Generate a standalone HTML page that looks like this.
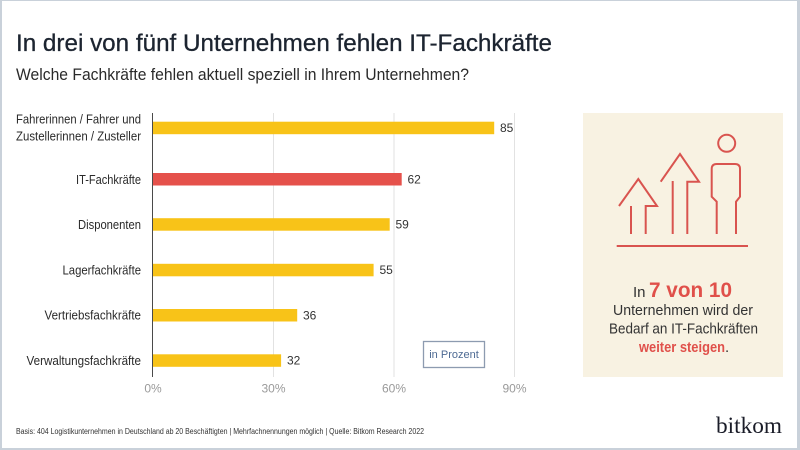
<!DOCTYPE html>
<html>
<head>
<meta charset="utf-8">
<style>
  html,body{margin:0;padding:0;background:#fff;}
  body{width:800px;height:450px;overflow:hidden;}
  svg{display:block;}
  text{font-family:"Liberation Sans",sans-serif;}
</style>
</head>
<body>
<svg width="800" height="450" viewBox="0 0 800 450" xmlns="http://www.w3.org/2000/svg">
  <rect x="0" y="0" width="800" height="450" fill="#ffffff"/>
  <!-- frame -->
  <rect x="0" y="0" width="800" height="1" fill="#c9d1da"/>
  <rect x="0" y="0" width="2" height="450" fill="#c9d1da"/>
  <rect x="797" y="0" width="3" height="450" fill="#c9d1da"/>
  <rect x="0" y="448" width="800" height="2" fill="#c9d1da"/>

  <!-- title -->
  <text x="16" y="51" font-size="24" fill="#1c2430" textLength="536" lengthAdjust="spacingAndGlyphs" stroke="#1c2430" stroke-width="0.3">In drei von fünf Unternehmen fehlen IT-Fachkräfte</text>
  <text x="16" y="80" font-size="17" fill="#2a2a2a" textLength="453" lengthAdjust="spacingAndGlyphs">Welche Fachkräfte fehlen aktuell speziell in Ihrem Unternehmen?</text>

  <!-- gridlines -->
  <g stroke="#e2e2e2" stroke-width="1">
    <line x1="273.5" y1="113" x2="273.5" y2="377"/>
    <line x1="394" y1="113" x2="394" y2="377"/>
    <line x1="514.5" y1="113" x2="514.5" y2="377"/>
  </g>

  <!-- bars -->
  <rect x="152.5" y="121.7" width="341.7" height="12.5" fill="#f8c318"/>
  <rect x="152.5" y="173" width="249.2" height="12.5" fill="#e5514b"/>
  <rect x="152.5" y="218.2" width="237.2" height="12.5" fill="#f8c318"/>
  <rect x="152.5" y="263.8" width="221.1" height="12.5" fill="#f8c318"/>
  <rect x="152.5" y="309" width="144.7" height="12.5" fill="#f8c318"/>
  <rect x="152.5" y="354.3" width="128.6" height="12.5" fill="#f8c318"/>

  <!-- axis -->
  <line x1="152.5" y1="113" x2="152.5" y2="377" stroke="#4a4a4a" stroke-width="1"/>

  <!-- category labels -->
  <g font-size="13" fill="#2a2a2a" text-anchor="end">
    <text x="141" y="123.5" textLength="125" lengthAdjust="spacingAndGlyphs">Fahrerinnen / Fahrer und</text>
    <text x="141" y="140.5" textLength="125" lengthAdjust="spacingAndGlyphs">Zustellerinnen / Zusteller</text>
    <text x="141" y="184" textLength="65" lengthAdjust="spacingAndGlyphs">IT-Fachkräfte</text>
    <text x="141" y="229" textLength="63" lengthAdjust="spacingAndGlyphs">Disponenten</text>
    <text x="141" y="274.5" textLength="78.5" lengthAdjust="spacingAndGlyphs">Lagerfachkräfte</text>
    <text x="141" y="319.5" textLength="96.5" lengthAdjust="spacingAndGlyphs">Vertriebsfachkräfte</text>
    <text x="141" y="365" textLength="114.5" lengthAdjust="spacingAndGlyphs">Verwaltungsfachkräfte</text>
  </g>

  <!-- value labels -->
  <g font-size="12" fill="#333333">
    <text x="500" y="132">85</text>
    <text x="407.5" y="183.5">62</text>
    <text x="395.5" y="228.5">59</text>
    <text x="379.5" y="274">55</text>
    <text x="303" y="319.5">36</text>
    <text x="287" y="364.5">32</text>
  </g>

  <!-- tick labels -->
  <g font-size="12" fill="#9a9a9a" text-anchor="middle">
    <text x="153" y="392.5">0%</text>
    <text x="273.5" y="392.5">30%</text>
    <text x="394" y="392.5">60%</text>
    <text x="514.5" y="392.5">90%</text>
  </g>

  <!-- in Prozent box -->
  <rect x="423.5" y="341.5" width="61" height="26" fill="#ffffff" stroke="#8d9bb0" stroke-width="1.3"/>
  <text x="454" y="358" font-size="11" fill="#4d6a93" text-anchor="middle">in Prozent</text>

  <!-- side panel -->
  <rect x="583" y="113" width="200" height="264" fill="#f8f2e2"/>
  <g fill="none" stroke="#d9544f" stroke-width="2" stroke-linejoin="miter" stroke-linecap="butt">
    <!-- arrow 1 -->
    <polyline points="619,206 638.3,179 657,206 645.7,206 645.7,234"/>
    <line x1="631" y1="206" x2="631" y2="234"/>
    <!-- arrow 2 -->
    <polyline points="660.7,181.7 680,154 699,181.7 687.3,181.7 687.3,234"/>
    <line x1="672.7" y1="181" x2="672.7" y2="234"/>
    <!-- person -->
    <circle cx="726.7" cy="143.3" r="8.5"/>
    <path d="M716.7,234 L716.7,201.7 L711.7,196.7 L711.7,169 Q711.7,164 716.7,164 L735,164 Q740,164 740,169 L740,196.7 L736,201.7 L736,234"/>
    <!-- baseline -->
    <line x1="616.7" y1="246" x2="748" y2="246"/>
  </g>
  <text x="633" y="297" font-size="15" fill="#333333">In</text>
  <text x="649" y="297" font-size="21" font-weight="bold" fill="#e0504a" textLength="83" lengthAdjust="spacingAndGlyphs">7 von 10</text>
  <text x="683" y="315" font-size="15" fill="#333333" text-anchor="middle" textLength="140" lengthAdjust="spacingAndGlyphs">Unternehmen wird der</text>
  <text x="683.5" y="333.5" font-size="15" fill="#333333" text-anchor="middle" textLength="149" lengthAdjust="spacingAndGlyphs">Bedarf an IT-Fachkräften</text>
  <text x="639" y="352" font-size="15" font-weight="bold" fill="#e0504a" textLength="86" lengthAdjust="spacingAndGlyphs">weiter steigen</text>
  <text x="725" y="352" font-size="15" fill="#333333">.</text>

  <!-- footer -->
  <text x="16" y="434" font-size="8" fill="#333333" textLength="408" lengthAdjust="spacingAndGlyphs">Basis: 404 Logistikunternehmen in Deutschland ab 20 Beschäftigten | Mehrfachnennungen möglich | Quelle: Bitkom Research 2022</text>

  <!-- logo -->
  <text x="716" y="433" font-size="23" fill="#1a1c28" textLength="66" lengthAdjust="spacingAndGlyphs" style="font-family:'Liberation Serif',serif">bitkom</text>
</svg>
</body>
</html>
